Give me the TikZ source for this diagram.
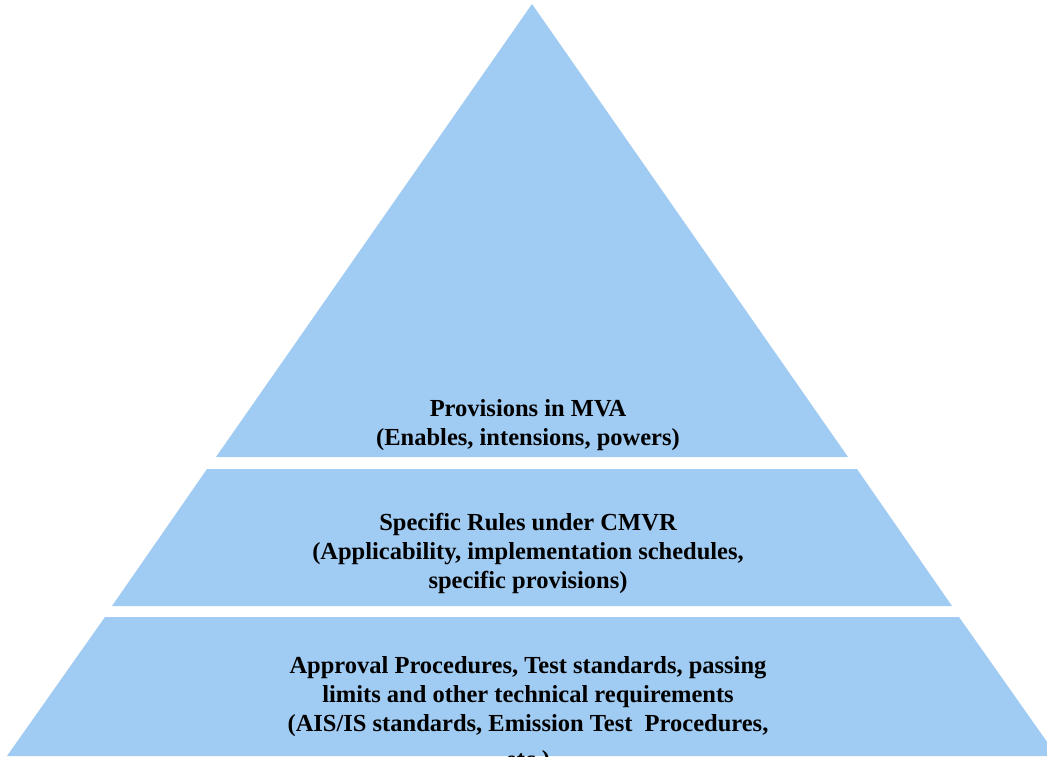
\documentclass[tikz,border=0pt]{standalone}
\usepackage{fontspec}
\setmainfont{Liberation Serif}
\definecolor{tierblue}{HTML}{A0CBF2}
\tikzset{
  tier/.style={fill=tierblue, draw=none},
  tiertext/.style={align=center, font=\fontsize{24.5}{29}\selectfont\bfseries, inner sep=0pt}
}
\begin{document}
\begin{tikzpicture}[x=1pt,y=-1pt]
\useasboundingbox (0,0) rectangle (1047,756);
\clip (0,0) rectangle (1047,756);
% three tiers of one triangle, apex at (532,4)
\coordinate (apex) at (532,4);
\fill[tier] (apex) -- (848,457) -- (216,457) -- cycle;
\fill[tier] (207,469) -- (857,469) -- (952,606) -- (112,606) -- cycle;
\fill[tier] (105,617) -- (959,617) -- (1057,756) -- (7,756) -- cycle;

\node[tiertext, anchor=north] (mva) at (528,399)
  {Provisions in MVA\\(Enables, intensions, powers)};
\node[tiertext, anchor=north] (cmvr) at (528,513)
  {Specific Rules under CMVR\\(Applicability, implementation schedules,\\specific provisions)};
\node[tiertext, anchor=north] (ais) at (528,656)
  {Approval Procedures, Test standards, passing\\limits and other technical requirements\\(AIS/IS standards, Emission Test~~Procedures,\\[7pt]etc.)};
\end{tikzpicture}
\end{document}
